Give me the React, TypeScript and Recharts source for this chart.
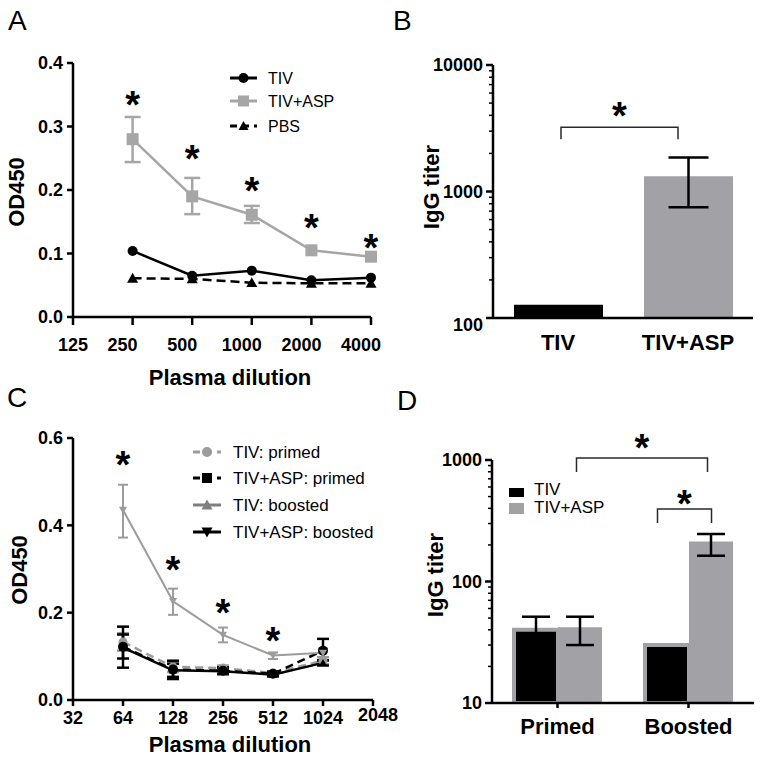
import React from 'react';
import { ComposedChart, Line, Bar, Cell, XAxis, YAxis, ErrorBar, ReferenceLine } from 'recharts';

const FONT = '"Liberation Sans", Arial, Helvetica, sans-serif';
const BLACK = '#000000';
const GRAY_A = '#a6a6a6';
const GRAY_C = '#9c9c9c';
const GRAY_BAR = '#a2a2a6';

// ---------------- Panel A ----------------
const dilutionA = [250, 500, 1000, 2000, 4000];
const tivA = [0.104, 0.065, 0.073, 0.058, 0.062];
const tivAspA = [0.28, 0.19, 0.161, 0.105, 0.095];
const tivAspErrA: (number[] | null)[] = [[0.036, 0.035], [0.028, 0.029], [0.013, 0.014], null, null];
const pbsA = [0.061, 0.06, 0.054, 0.053, 0.053];
const starA = [0.347, 0.262, 0.211, 0.153, 0.121];
const xTicksA = [125, 250, 500, 1000, 2000, 4000];
const yTicksA = [0, 0.1, 0.2, 0.3, 0.4];

// ---------------- Panel B ----------------
const groupsB = ['TIV', 'TIV+ASP'];
const titerB = [127, 1318];
const titerErrB: (number[] | null)[] = [null, [567, 542]];
const yTicksB = [100, 200, 300, 400, 500, 600, 700, 800, 900, 1000, 2000, 3000, 4000, 5000, 6000, 7000, 8000, 9000, 10000];
const yMajorB = [100, 1000, 10000];
const bracketLevelB = 3220;

// ---------------- Panel C ----------------
const dilutionC = [64, 128, 256, 512, 1024];
const tivPrimedC = [0.133, 0.076, 0.073, 0.062, 0.09];
const tivPrimedErrC = [[0.02, 0.02], [0.012, 0.012], [0.006, 0.006], [0.004, 0.004], [0.008, 0.008]];
const aspPrimedC = [0.122, 0.07, 0.067, 0.06, 0.113];
const aspPrimedErrC = [[0.048, 0.046], [0.022, 0.02], [0.008, 0.008], [0.005, 0.005], [0.022, 0.027]];
const tivBoostedC = [0.12, 0.068, 0.066, 0.058, 0.085];
const tivBoostedErrC = [[0.025, 0.03], [0.015, 0.015], [0.006, 0.006], [0.004, 0.004], [0.006, 0.006]];
const aspBoostedC = [0.435, 0.226, 0.149, 0.102, 0.108];
const aspBoostedErrC = [[0.063, 0.058], [0.031, 0.029], [0.017, 0.017], [0.008, 0.007], [0.01, 0.01]];
const starC: (number | null)[] = [0.557, 0.317, 0.218, 0.154, null];
const xTicksC = [32, 64, 128, 256, 512, 1024, 2048];
const yTicksC = [0, 0.2, 0.4, 0.6];

// ---------------- Panel D ----------------
const groupsD = ['Primed', 'Boosted'];
const tivD = [40, 30];
const tivErrD: (number[] | null)[] = [[9, 11.3], null];
const tivAspD = [42, 213];
const tivAspErrD: (number[] | null)[] = [[12, 9.3], [50, 33]];
const yTicksD = [10, 20, 30, 40, 50, 60, 70, 80, 90, 100, 200, 300, 400, 500, 600, 700, 800, 900, 1000];
const yMajorD = [10, 100, 1000];
const bracketLevelsD = [1040, 395];

// ---------------- rows built from arrays ----------------
const rowsA = dilutionA.map((d, i) => ({ dil: d, tiv: tivA[i], asp: tivAspA[i], aspErr: tivAspErrA[i], pbs: pbsA[i], star: starA[i] }));
const rowsB = groupsB.map((g, i) => ({ group: g, titer: titerB[i], err: titerErrB[i] }));
const rowsC = dilutionC.map((d, i) => ({
  dil: d,
  tivP: tivPrimedC[i], tivPErr: tivPrimedErrC[i],
  aspP: aspPrimedC[i], aspPErr: aspPrimedErrC[i],
  tivB: tivBoostedC[i], tivBErr: tivBoostedErrC[i],
  aspB: aspBoostedC[i], aspBErr: aspBoostedErrC[i],
  star: starC[i],
}));
const rowsD = groupsD.map((g, i) => ({ group: g, tiv: tivD[i], tivErr: tivErrD[i], asp: tivAspD[i], aspErr: tivAspErrD[i] }));

const barColorsB = [BLACK, GRAY_BAR];

// ---------------- marker helpers ----------------
function marker(kind: string, cx: number, cy: number, size: number, fill: string, key?: any) {
  const h = size / 2;
  if (kind === 'circle') return <circle key={key} cx={cx} cy={cy} r={h} fill={fill} />;
  if (kind === 'square') return <rect key={key} x={cx - h} y={cy - h} width={size} height={size} fill={fill} />;
  if (kind === 'up') return <path key={key} d={`M${cx},${cy - h} L${cx + h},${cy + h * 0.8} L${cx - h},${cy + h * 0.8} Z`} fill={fill} />;
  if (kind === 'down') return <path key={key} d={`M${cx},${cy + h} L${cx + h},${cy - h * 0.8} L${cx - h},${cy - h * 0.8} Z`} fill={fill} />;
  return <g key={key} />;
}

const dotOf = (kind: string, size: number, fill: string) => (p: any) => {
  if (p.cx == null || p.cy == null || p.value == null) return <g key={`e${p.index}`} />;
  return marker(kind, p.cx, p.cy, size, fill, `d${p.index}`);
};

const StarDot = (p: any) => {
  if (p.cx == null || p.cy == null || p.value == null) return <g key={`s${p.index}`} />;
  return (
    <text key={`s${p.index}`} x={p.cx} y={p.cy + 21} textAnchor="middle" fontSize={38} fontWeight={700} fontFamily={FONT} fill={BLACK}>*</text>
  );
};

const tickStyle = { fill: BLACK, fontSize: 18, fontWeight: 700, fontFamily: FONT };
const axisLine = { stroke: BLACK, strokeWidth: 2.5 };

const XTickA = (p: any) => {
  const shift = p.index === 0 ? 0 : -10;
  return (
    <text x={p.x + shift} y={p.y} dy="0.71em" textAnchor="middle" {...tickStyle}>{p.payload.value}</text>
  );
};

const XTickC = (p: any) => {
  const last = p.payload.value === xTicksC[xTicksC.length - 1];
  return (
    <text x={p.x + (last ? 5 : 0)} y={p.y - (last ? 3 : 0)} dy="0.71em" textAnchor="middle" {...tickStyle}>{p.payload.value}</text>
  );
};

const makeLogTick = (majors: number[], lowerMin: number) => (p: any) => {
  const v = p.payload.value;
  const major = majors.includes(v);
  const len = major ? 7 : 4;
  return (
    <g>
      <line x1={p.x - len} x2={p.x} y1={p.y} y2={p.y} stroke={BLACK} strokeWidth={major ? 2.5 : 1.5} />
      {major && (
        <text x={p.x - len - 3} y={p.y + (v === majors[0] ? lowerMin : 0)} dy="0.35em" textAnchor="end" {...tickStyle}>{v}</text>
      )}
    </g>
  );
};

const BracketShape = (p: any) => {
  const { x1, y1, x2, off1, off2, drop, starUp } = p;
  const a = x1 + off1;
  const b = x2 + off2;
  return (
    <g>
      <path d={`M${a},${y1 + drop} L${a},${y1} L${b},${y1} L${b},${y1 + drop}`} fill="none" stroke="#2a2a2a" strokeWidth={1.5} />
      <text x={(a + b) / 2} y={y1 - starUp + 21} textAnchor="middle" fontSize={38} fontWeight={700} fontFamily={FONT} fill={BLACK}>*</text>
    </g>
  );
};

// ---------------- Charts ----------------
function ChartA() {
  return (
    <ComposedChart width={381} height={390} data={rowsA} margin={{ top: 63, right: 10, left: 23, bottom: 5 }}>
      <XAxis dataKey="dil" type="number" scale="log" domain={[125, 4000]} ticks={xTicksA} interval={0}
        height={68} tickSize={8} tickMargin={13} axisLine={axisLine} tickLine={axisLine} tick={XTickA} />
      <YAxis type="number" domain={[0, 0.4]} ticks={yTicksA} width={50} tickSize={6} tickMargin={4}
        axisLine={axisLine} tickLine={axisLine} tick={tickStyle} tickFormatter={(v: number) => v.toFixed(1)} />
      <Line dataKey="pbs" stroke={BLACK} strokeWidth={2.5} strokeDasharray="9 5" dot={dotOf('up', 11, BLACK)} activeDot={false} isAnimationActive={false} />
      <Line dataKey="tiv" stroke={BLACK} strokeWidth={2.5} dot={dotOf('circle', 10, BLACK)} activeDot={false} isAnimationActive={false} />
      <Line dataKey="asp" stroke={GRAY_A} strokeWidth={2.5} dot={dotOf('square', 12, GRAY_A)} activeDot={false} isAnimationActive={false}>
        <ErrorBar dataKey="aspErr" direction="y" width={8} stroke={GRAY_A} strokeWidth={2.5} isAnimationActive={false} />
      </Line>
      <Line dataKey="star" stroke="none" dot={StarDot} activeDot={false} isAnimationActive={false} />
    </ComposedChart>
  );
}

function ChartB() {
  return (
    <ComposedChart width={381} height={390} data={rowsB} margin={{ top: 65, right: 9, left: 62, bottom: 12 }}>
      <XAxis dataKey="group" type="category" height={60} tickLine={false} tickSize={0} tickMargin={16}
        axisLine={axisLine} tick={{ ...tickStyle, fontSize: 22 }} interval={0} />
      <YAxis type="number" scale="log" domain={[100, 10000]} ticks={yTicksB} interval={0} allowDataOverflow width={50}
        tickSize={0} tickMargin={0} tickLine={false} axisLine={axisLine} tick={makeLogTick(yMajorB, 7)} />
      <Bar dataKey="titer" barSize={89} isAnimationActive={false}>
        {rowsB.map((r, i) => <Cell key={r.group} fill={barColorsB[i]} />)}
        <ErrorBar dataKey="err" direction="y" width={20} stroke={BLACK} strokeWidth={2.5} isAnimationActive={false} />
      </Bar>
      <ReferenceLine ifOverflow="visible" segment={[{ x: groupsB[0], y: bracketLevelB }, { x: groupsB[1], y: bracketLevelB }]}
        shape={(p: any) => <BracketShape {...p} off1={3} off2={-10} drop={12} starUp={19} />} />
    </ComposedChart>
  );
}

function ChartC() {
  return (
    <ComposedChart width={400} height={390} data={rowsC} margin={{ top: 68, right: 27, left: 23, bottom: 8 }}>
      <XAxis dataKey="dil" type="number" scale="log" domain={[32, 2048]} ticks={xTicksC} interval={0}
        height={52} tickSize={6} tickMargin={5} axisLine={axisLine} tickLine={axisLine} tick={XTickC} />
      <YAxis type="number" domain={[0, 0.6]} ticks={yTicksC} width={50} tickSize={6} tickMargin={4}
        axisLine={axisLine} tickLine={axisLine} tick={tickStyle} tickFormatter={(v: number) => v.toFixed(1)} />
      <Line dataKey="tivP" stroke={GRAY_C} strokeWidth={2.5} strokeDasharray="8 5" dot={dotOf('circle', 9, GRAY_C)} activeDot={false} isAnimationActive={false}>
        <ErrorBar dataKey="tivPErr" direction="y" width={6} stroke={GRAY_C} strokeWidth={2.5} isAnimationActive={false} />
      </Line>
      <Line dataKey="tivB" stroke={BLACK} strokeWidth={2.5} dot={dotOf('up', 8, BLACK)} activeDot={false} isAnimationActive={false}>
        <ErrorBar dataKey="tivBErr" direction="y" width={6} stroke={BLACK} strokeWidth={2.5} isAnimationActive={false} />
      </Line>
      <Line dataKey="aspP" stroke={BLACK} strokeWidth={2.5} strokeDasharray="8 5" dot={dotOf('circle', 10, BLACK)} activeDot={false} isAnimationActive={false}>
        <ErrorBar dataKey="aspPErr" direction="y" width={6} stroke={BLACK} strokeWidth={2.5} isAnimationActive={false} />
      </Line>
      <Line dataKey="aspB" stroke={GRAY_C} strokeWidth={2} dot={dotOf('down', 8, GRAY_C)} activeDot={false} isAnimationActive={false}>
        <ErrorBar dataKey="aspBErr" direction="y" width={5} stroke={GRAY_C} strokeWidth={2} isAnimationActive={false} />
      </Line>
      <Line dataKey="star" stroke="none" dot={StarDot} activeDot={false} isAnimationActive={false} />
    </ComposedChart>
  );
}

function ChartD() {
  return (
    <ComposedChart width={381} height={390} data={rowsD} margin={{ top: 90, right: 8, left: 61, bottom: 12 }} barGap={0}>
      <XAxis dataKey="group" type="category" height={45} tickSize={5} tickMargin={10}
        axisLine={axisLine} tickLine={axisLine} tick={{ ...tickStyle, fontSize: 22 }} interval={0} />
      <YAxis type="number" scale="log" domain={[10, 1000]} ticks={yTicksD} interval={0} allowDataOverflow width={50}
        tickSize={0} tickMargin={0} tickLine={false} axisLine={axisLine} tick={makeLogTick(yMajorD, 0)} />
      <Bar dataKey="tiv" barSize={44} fill={BLACK} stroke={GRAY_BAR} strokeWidth={4} isAnimationActive={false}>
        <ErrorBar dataKey="tivErr" direction="y" width={14} stroke={BLACK} strokeWidth={2.5} isAnimationActive={false} />
      </Bar>
      <Bar dataKey="asp" barSize={44} fill={GRAY_BAR} isAnimationActive={false}>
        <ErrorBar dataKey="aspErr" direction="y" width={14} stroke={BLACK} strokeWidth={2.5} isAnimationActive={false} />
      </Bar>
      <ReferenceLine ifOverflow="visible" segment={[{ x: groupsD[0], y: bracketLevelsD[0] }, { x: groupsD[1], y: bracketLevelsD[0] }]}
        shape={(p: any) => <BracketShape {...p} off1={19} off2={19} drop={14} starUp={18} />} />
      <ReferenceLine ifOverflow="visible" segment={[{ x: groupsD[1], y: bracketLevelsD[1] }, { x: groupsD[1], y: bracketLevelsD[1] }]}
        shape={(p: any) => <BracketShape {...p} off1={-31} off2={23} drop={14} starUp={13} />} />
    </ComposedChart>
  );
}

// ---------------- legends / titles ----------------
const legendA = [
  { name: 'TIV', color: BLACK, dash: false, kind: 'circle', size: 10 },
  { name: 'TIV+ASP', color: GRAY_A, dash: false, kind: 'square', size: 11 },
  { name: 'PBS', color: BLACK, dash: true, kind: 'up', size: 10 },
];
const legendC = [
  { name: 'TIV: primed', color: GRAY_C, dash: true, kind: 'circle', size: 10 },
  { name: 'TIV+ASP: primed', color: BLACK, dash: true, kind: 'square', size: 10 },
  { name: 'TIV: boosted', color: '#7f7f7f', dash: false, kind: 'up', size: 11 },
  { name: 'TIV+ASP: boosted', color: BLACK, dash: false, kind: 'down', size: 11 },
];
const legendD = [
  { name: 'TIV', color: BLACK },
  { name: 'TIV+ASP', color: GRAY_BAR },
];

function LineLegend({ items, x0, x1, tx, ys, fontSize }: any) {
  return (
    <g>
      {items.map((it: any, i: number) => (
        <g key={it.name}>
          <line x1={x0} x2={x1} y1={ys[i]} y2={ys[i]} stroke={it.color} strokeWidth={3} strokeDasharray={it.dash ? '7 5' : undefined} />
          {marker(it.kind, (x0 + x1) / 2, ys[i], it.size, it.color)}
          <text x={tx} y={ys[i]} dy="0.35em" fontSize={fontSize} fontFamily={FONT} fill={BLACK}>{it.name}</text>
        </g>
      ))}
    </g>
  );
}

export default function App() {
  const titleStyle = { fontFamily: FONT, fontWeight: 700, fontSize: 22, fill: BLACK };
  const letterStyle = { fontFamily: FONT, fontSize: 28, fill: BLACK };
  return (
    <div style={{ position: 'absolute', left: 0, top: 0, width: 762, height: 760, background: '#fff' }}>
      <div style={{ position: 'absolute', left: 0, top: 0 }}><ChartA /></div>
      <div style={{ position: 'absolute', left: 381, top: 0 }}><ChartB /></div>
      <div style={{ position: 'absolute', left: 381, top: 370 }}><ChartD /></div>
      <div style={{ position: 'absolute', left: 0, top: 370 }}><ChartC /></div>
      <svg width={762} height={760} style={{ position: 'absolute', left: 0, top: 0, pointerEvents: 'none' }}>
        <text x={8} y={30} {...letterStyle}>A</text>
        <text x={393} y={30} {...letterStyle}>B</text>
        <text x={7} y={407} {...letterStyle}>C</text>
        <text x={397} y={410} {...letterStyle}>D</text>

        <text x={230} y={385} textAnchor="middle" {...titleStyle}>Plasma dilution</text>
        <text x={230} y={752} textAnchor="middle" {...titleStyle}>Plasma dilution</text>
        <text transform="translate(24,192) rotate(-90)" textAnchor="middle" {...titleStyle}>OD450</text>
        <text transform="translate(27,570) rotate(-90)" textAnchor="middle" {...titleStyle}>OD450</text>
        <text transform="translate(439,187) rotate(-90)" textAnchor="middle" {...titleStyle}>IgG titer</text>
        <text transform="translate(443,575) rotate(-90)" textAnchor="middle" {...titleStyle}>IgG titer</text>

        <LineLegend items={legendA} x0={230} x1={257} tx={268} ys={[78, 101, 126]} fontSize={16} />
        <LineLegend items={legendC} x0={193} x1={221} tx={233} ys={[452, 478, 505, 532]} fontSize={17} />
        {legendD.map((it, i) => (
          <g key={it.name}>
            <rect x={509} y={[488, 503][i]} width={15} height={[9, 11][i]} fill={it.color} />
            <text x={534} y={[489, 507][i]} dy="0.35em" fontSize={17} fontFamily={FONT} fill={BLACK}>{it.name}</text>
          </g>
        ))}
      </svg>
    </div>
  );
}
